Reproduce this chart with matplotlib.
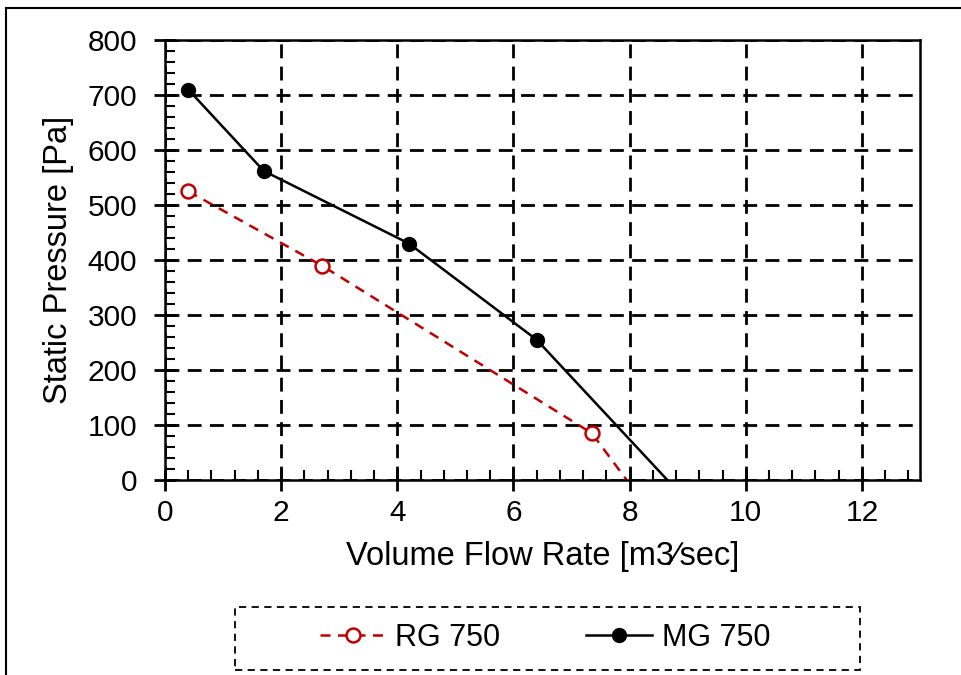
import matplotlib.pyplot as plt
from matplotlib.patches import Rectangle
from matplotlib.ticker import MultipleLocator

plt.rcParams['font.family'] = ['Liberation Sans', 'DejaVu Sans']

# data
rg_x = [0.4, 2.7, 7.35, 7.95]
rg_y = [525, 390, 85, 0]
mg_x = [0.4, 1.7, 4.2, 6.4, 8.65]
mg_y = [710, 562, 430, 255, 0]

fig = plt.figure(figsize=(9.62, 6.75), dpi=100)
ax = fig.add_axes([0.1715, 0.2889, 0.7848, 0.6518])

ax.plot(rg_x, rg_y, color='#C00000', lw=1.8, linestyle=(0, (4, 3)),
        marker='o', ms=10, mfc='white', mec='#C00000', mew=1.8,
        markevery=[0, 1, 2], label='RG 750')
ax.plot(mg_x, mg_y, color='black', lw=1.8, marker='o', ms=10,
        markevery=[0, 1, 2, 3], label='MG 750')

ax.set_xlim(0, 13)
ax.set_ylim(0, 800)
ax.xaxis.set_major_locator(MultipleLocator(2))
ax.xaxis.set_minor_locator(MultipleLocator(0.4))
ax.yaxis.set_major_locator(MultipleLocator(100))
ax.yaxis.set_minor_locator(MultipleLocator(20))
ax.grid(True, which='major', color='black', lw=2, linestyle=(0, (5, 3)))
ax.set_axisbelow(True)

ax.tick_params(which='major', direction='inout', length=16, width=2,
               labelsize=21.5)
ax.tick_params(axis='y', which='major', pad=12)
ax.tick_params(axis='x', which='major', pad=6)
ax.tick_params(which='minor', direction='in', length=7, width=1.5)
for s in ax.spines.values():
    s.set_linewidth(1.8)

ax.set_xlabel('Volume Flow Rate [m3\u2215sec]', fontsize=23.5, labelpad=10)
ax.set_ylabel('Static Pressure [Pa]', fontsize=23.5, labelpad=10)

# legend box (dashed) and legend entries
fig.patches.append(Rectangle((235 / 962, 1 - 670 / 675), 625 / 962, 63 / 675,
                             transform=fig.transFigure, fill=False,
                             edgecolor='black', lw=1.3, linestyle=(0, (4, 3))))
fig.legend(loc='center left', bbox_to_anchor=(320 / 962, 1 - 638 / 675),
           ncol=2, fontsize=22, frameon=False, handlelength=2.15,
           columnspacing=2.8, handletextpad=0.32, borderpad=0, borderaxespad=0)

# outer chart border
fig.patches.append(Rectangle((6 / 962, -0.1), 1.1, 0.1 + 1 - 8 / 675,
                             transform=fig.transFigure, fill=False,
                             edgecolor='black', lw=1.5))

fig.savefig('out.png', dpi=100)
